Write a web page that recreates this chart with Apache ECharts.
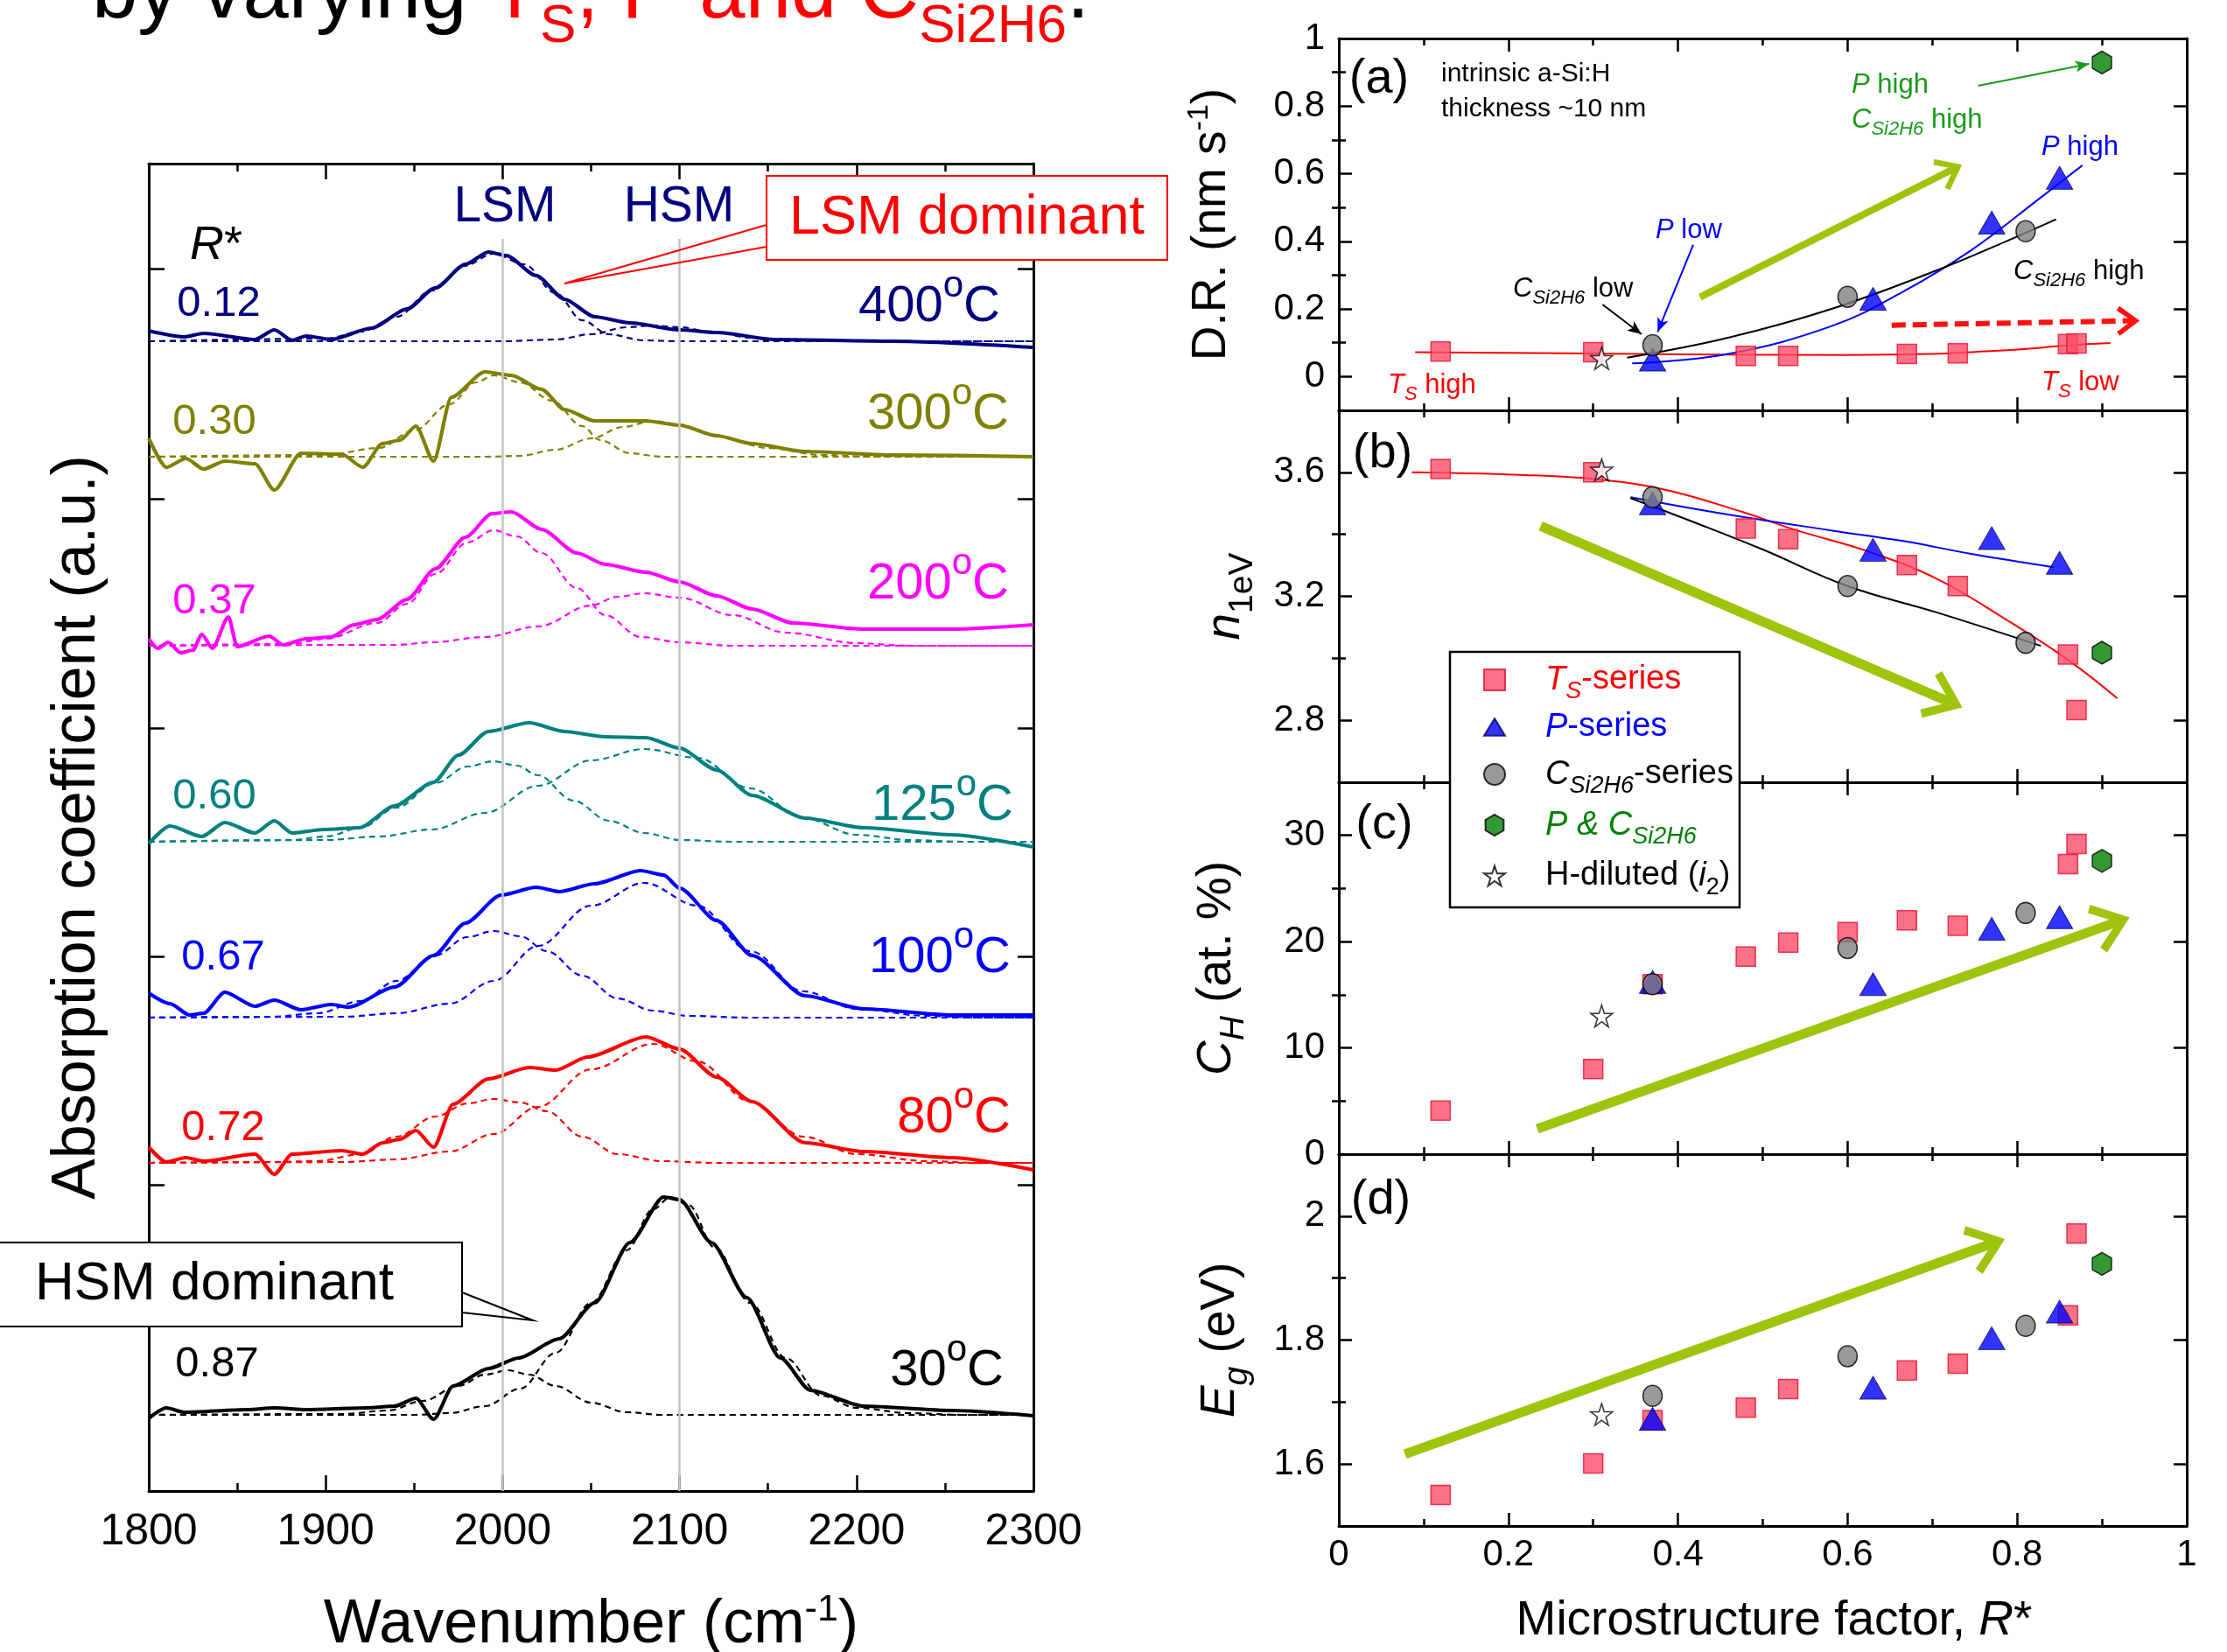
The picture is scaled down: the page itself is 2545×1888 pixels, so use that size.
<!DOCTYPE html>
<html>
<head>
<meta charset="utf-8">
<title>a-Si:H microstructure</title>
<script src="https://cdn.jsdelivr.net/npm/echarts@6/dist/echarts.min.js"></script>
<style>
html,body{margin:0;padding:0;background:#ffffff;}
#chart{width:2545px;height:1888px;}
</style>
</head>
<body>
<div id="chart"></div>
<script>
// ======================= DATA =======================
// ---- Left panel: FTIR Si-H stretching spectra (height above each curve's baseline, a.u.)
const wnTicks = [1800, 1900, 2000, 2100, 2200, 2300];
const absTicks = [350, 611, 872, 1134, 1397];
const tempLabels = ['400', '300', '200', '125', '100', '80', '30'];
const rStarLabels = ['0.12', '0.30', '0.37', '0.60', '0.67', '0.72', '0.87'];
const baselines = [1314, 1182, 966, 742, 541, 375, 87];
const peakLines = [2000, 2100];
const peakLineTop = 1431;

const spec400 = [[1800,12],[1820,5],[1831,9],[1860,2],[1871,13],[1881,1],[1889,6],[1903,2],[1926,15],[1946,37],[1962,61],[1979,88],[1992,102],[2002,98],[2019,75],[2035,48],[2052,28],[2072,21],[2100,13],[2121,10],[2154,2],[2221,0],[2300,-7]];
const lsm400 = [[1800,0],[1900,3],[1920,11],[1940,28],[1960,58],[1978,86],[1995,100],[2012,88],[2030,55],[2045,24],[2060,8],[2080,1],[2100,0],[2300,0]];
const hsm400 = [[1800,0],[2000,0],[2030,2],[2050,8],[2070,16],[2085,18],[2100,16],[2120,10],[2140,4],[2160,1],[2190,0],[2300,0]];

const spec300 = [[1800,21],[1810,-12],[1821,-2],[1831,-14],[1843,-5],[1860,-8],[1871,-38],[1886,4],[1909,3],[1921,-12],[1932,15],[1942,19],[1951,35],[1961,-5],[1971,68],[1990,97],[2005,93],[2022,77],[2035,54],[2052,41],[2081,41],[2100,36],[2121,24],[2141,15],[2171,6],[2221,2],[2300,0]];
const lsm300 = [[1800,0],[1900,2],[1930,10],[1950,30],[1970,60],[1985,85],[1995,93],[2010,85],[2028,64],[2045,35],[2055,19],[2072,4],[2090,0],[2300,0]];
const hsm300 = [[1800,0],[1990,0],[2010,1],[2030,8],[2050,21],[2068,34],[2085,41],[2100,37],[2120,24],[2150,10],[2180,2],[2210,0],[2300,0]];

const spec200 = [[1800,8],[1805,-3],[1811,4],[1818,-8],[1825,-5],[1830,13],[1836,-3],[1845,33],[1850,-1],[1868,11],[1876,1],[1889,8],[1903,10],[1916,24],[1929,30],[1946,53],[1962,88],[1979,124],[1994,151],[2005,153],[2022,133],[2042,106],[2058,93],[2081,84],[2100,73],[2121,57],[2141,42],[2164,26],[2204,19],[2254,19],[2300,24]];
const lsm200 = [[1800,0],[1880,2],[1900,8],[1929,26],[1946,48],[1962,82],[1980,118],[1995,132],[2008,125],[2022,106],[2042,66],[2058,35],[2078,10],[2100,4],[2130,0],[2300,0]];
const hsm200 = [[1800,0],[1940,1],[1960,4],[1990,10],[2020,22],[2050,46],[2065,56],[2080,60],[2100,55],[2130,35],[2160,15],[2200,3],[2230,0],[2300,0]];

const spec125 = [[1800,-2],[1812,18],[1830,6],[1843,22],[1860,10],[1871,24],[1881,10],[1899,14],[1919,16],[1939,41],[1961,68],[1975,99],[1992,126],[2015,136],[2035,126],[2058,120],[2081,119],[2100,107],[2121,82],[2141,53],[2171,27],[2204,16],[2254,8],[2300,-6]];
const lsm125 = [[1800,0],[1880,2],[1900,6],[1920,16],[1940,39],[1962,67],[1980,86],[1995,92],[2008,87],[2020,76],[2040,47],[2060,24],[2080,10],[2100,2],[2130,0],[2300,0]];
const hsm125 = [[1800,0],[1900,2],[1930,6],[1960,14],[1990,33],[2020,64],[2050,93],[2080,106],[2110,96],[2140,61],[2170,27],[2200,8],[2230,2],[2260,0],[2300,0]];

const spec100 = [[1800,28],[1812,16],[1823,3],[1831,5],[1843,29],[1860,13],[1871,20],[1886,9],[1903,15],[1913,12],[1939,35],[1961,71],[1979,108],[1999,140],[2019,149],[2032,144],[2052,153],[2078,168],[2091,163],[2100,148],[2121,111],[2141,71],[2171,25],[2204,10],[2254,3],[2300,3]];
const lsm100 = [[1800,0],[1870,1],[1895,5],[1920,19],[1940,42],[1962,71],[1980,92],[1995,99],[2010,93],[2025,76],[2045,48],[2065,22],[2085,8],[2105,2],[2140,0],[2300,0]];
const hsm100 = [[1800,0],[1910,1],[1940,5],[1970,16],[1995,42],[2020,82],[2050,128],[2080,154],[2110,128],[2140,76],[2170,30],[2200,10],[2240,2],[2270,0],[2300,0]];

const spec80 = [[1800,18],[1810,1],[1821,6],[1831,2],[1860,10],[1871,-13],[1881,10],[1909,14],[1921,10],[1932,23],[1942,27],[1951,37],[1961,18],[1972,67],[1992,96],[2015,109],[2030,106],[2048,121],[2081,144],[2100,130],[2121,98],[2141,70],[2171,23],[2204,13],[2254,6],[2300,-8]];
const lsm80 = [[1800,0],[1870,1],[1895,2],[1920,10],[1940,30],[1962,53],[1980,68],[1995,73],[2010,69],[2025,59],[2045,30],[2065,10],[2090,2],[2120,0],[2300,0]];
const hsm80 = [[1800,0],[1910,1],[1940,4],[1970,13],[1995,33],[2020,64],[2050,107],[2085,136],[2110,116],[2140,70],[2170,30],[2200,10],[2240,2],[2270,0],[2300,0]];

const spec30 = [[1800,-4],[1810,8],[1820,3],[1856,6],[1871,8],[1889,6],[1923,8],[1939,10],[1951,19],[1961,-5],[1972,33],[1992,53],[2009,65],[2032,87],[2052,128],[2072,197],[2091,249],[2100,246],[2118,197],[2138,134],[2157,65],[2174,28],[2204,10],[2254,5],[2300,-1]];
const lsm30 = [[1800,0],[1910,1],[1935,5],[1955,16],[1975,33],[1990,46],[2003,51],[2015,46],[2030,33],[2050,14],[2070,3],[2090,0],[2300,0]];
const hsm30 = [[1800,0],[1950,0],[1970,2],[1990,10],[2010,30],[2030,71],[2050,128],[2070,188],[2085,235],[2095,249],[2105,240],[2120,191],[2140,128],[2160,65],[2180,22],[2200,8],[2230,2],[2260,0],[2300,0]];

// ---- Right panels: properties vs microstructure factor R*
const rTicks = [0, 0.2, 0.4, 0.6, 0.8, 1];
const drTicks = [0, 0.2, 0.4, 0.6, 0.8, 1];
const drMinor = [0.1, 0.3, 0.5, 0.7, 0.9];
const nTicks = [2.8, 3.2, 3.6];
const nMinor = [3.0, 3.4];
const chTicks = [0, 10, 20, 30];
const chMinor = [5, 15, 25];
const egTicks = [1.6, 1.8, 2.0];
const egMinor = [1.7, 1.9];

// Ts-series
const tsRa = [0.12, 0.30, 0.48, 0.53, 0.67, 0.73, 0.86, 0.87];
const tsDR = [0.074, 0.072, 0.061, 0.061, 0.067, 0.069, 0.096, 0.098];
const tsRb = [0.12, 0.30, 0.48, 0.53, 0.67, 0.73, 0.86, 0.87];
const tsN = [3.611, 3.600, 3.419, 3.384, 3.301, 3.233, 3.012, 2.833];
const tsRc = [0.12, 0.30, 0.37, 0.48, 0.53, 0.60, 0.67, 0.73, 0.86, 0.87];
const tsCH = [4.1, 8.0, 16.0, 18.6, 19.9, 20.9, 22.0, 21.5, 27.3, 29.2];
const tsRd = [0.12, 0.30, 0.37, 0.48, 0.53, 0.67, 0.73, 0.86, 0.87];
const tsEg = [1.550, 1.601, 1.671, 1.691, 1.721, 1.751, 1.762, 1.840, 1.972];
// P-series
const pR = [0.37, 0.63, 0.77, 0.85];
const pDR = [0.050, 0.230, 0.455, 0.588];
const pN = [3.50, 3.35, 3.388, 3.308];
const pCH = [16.2, 16.0, 21.2, 22.3];
const pEg = [1.673, 1.723, 1.803, 1.846];
// C_Si2H6-series
const cR = [0.37, 0.60, 0.81];
const cDR = [0.093, 0.236, 0.430];
const cN = [3.52, 3.233, 3.05];
const cCH = [16.0, 19.4, 22.7];
const cEg = [1.710, 1.774, 1.823];
// P & C_Si2H6
const pcR = [0.90];
const pcDR = [0.929];
const pcN = [3.018];
const pcCH = [27.6];
const pcEg = [1.923];
// H-diluted (i2)
const hR = [0.31];
const hDR = [0.054];
const hN = [3.608];
const hCH = [13.0];
const hEg = [1.680];
// guide-to-the-eye curves
const fitTsDR = [[0.09,0.072],[0.30,0.068],[0.45,0.065],[0.60,0.064],[0.70,0.067],[0.75,0.073],[0.80,0.080],[0.86,0.092],[0.91,0.099]];
const fitPDR = [[0.346,0.039],[0.459,0.067],[0.582,0.150],[0.664,0.249],[0.746,0.374],[0.828,0.530],[0.877,0.625]];
const fitCDR = [[0.340,0.056],[0.459,0.115],[0.582,0.201],[0.705,0.314],[0.787,0.400],[0.846,0.465]];
const fitTsN = [[0.086,3.600],[0.213,3.592],[0.299,3.579],[0.385,3.544],[0.475,3.473],[0.541,3.412],[0.623,3.346],[0.705,3.257],[0.787,3.125],[0.861,2.993],[0.918,2.871]];
const fitPN = [[0.344,3.520],[0.459,3.464],[0.582,3.412],[0.664,3.379],[0.746,3.337],[0.843,3.294]];
const fitCN = [[0.344,3.517],[0.418,3.440],[0.500,3.351],[0.600,3.233],[0.705,3.148],[0.828,3.040]];
// trend arrows (data coordinates: [R*, value])
const trendA = [[0.426, 0.235], [0.7255, 0.615]];
const trendB = [[0.238, 3.427], [0.721, 2.858]];
const trendC = [[0.234, 2.38], [0.918, 21.85]];
const trendD = [[0.078, 1.616], [0.771, 1.956]];
const tsArrowA = [[0.652, 0.152], [0.935, 0.165]];
const greenArrowA = [[0.754, 0.860], [0.885, 0.925]];
const blueArrowA = [[0.418, 0.390], [0.376, 0.132]];
const blackArrowA = [[0.311, 0.213], [0.357, 0.125]];

// ======================= STYLE / LAYOUT =======================
const FF = '"Liberation Sans", Arial, Helvetica, sans-serif';
const specColors = ['#000080', '#808000', '#ff00ff', '#008080', '#0000ff', '#ff0000', '#000000'];
const LIME = '#9ec40c';
const LH = (s) => Math.round(s * 1.2);
const R = (s) => ({
  i: {fontStyle: 'italic', fontSize: s, fontFamily: FF, lineHeight: LH(s)},
  sub: {fontSize: Math.round(s * 0.7), fontFamily: FF, lineHeight: LH(s), padding: [Math.round(s * 0.7), 0, 0, 0]},
  isub: {fontSize: Math.round(s * 0.7), fontStyle: 'italic', fontFamily: FF, lineHeight: LH(s), padding: [Math.round(s * 0.7), 0, 0, 0]},
  sup: {fontSize: Math.round(s * 0.62), fontFamily: FF, lineHeight: LH(s), padding: [0, 0, Math.round(s * 0.5), 0]},
  deg: {fontSize: Math.round(s * 0.72), fontFamily: FF, lineHeight: LH(s), padding: [0, 0, Math.round(s * 0.83), 0]}
});
const zip = (xs, ys) => xs.map((x, i) => [x, ys[i]]);
const AXL = {color: '#000', width: 3};
const TKS = {color: '#000', width: 2.5};

// ======================= CHART =======================
const chart = echarts.init(document.getElementById('chart'), null, {renderer: 'canvas', width: 2545, height: 1888});

const grid = [
  {left: 170, top: 187, width: 1011, height: 1517, outerBoundsMode: 'none', containLabel: false},
  {left: 1530, top: 44, width: 969, height: 425, outerBoundsMode: 'none', containLabel: false},
  {left: 1530, top: 469, width: 969, height: 425, outerBoundsMode: 'none', containLabel: false},
  {left: 1530, top: 894, width: 969, height: 425, outerBoundsMode: 'none', containLabel: false},
  {left: 1530, top: 1319, width: 969, height: 425, outerBoundsMode: 'none', containLabel: false}
];

const xAxis = [];
const yAxis = [];
// left panel axes
xAxis.push({
  gridIndex: 0, type: 'value', position: 'bottom', min: 1800, max: 2300, interval: 100,
  axisLine: {onZero: false, lineStyle: AXL},
  axisTick: {inside: true, length: 18, lineStyle: TKS},
  minorTick: {show: true, splitNumber: 2, length: 9, lineStyle: TKS},
  axisLabel: {fontSize: 50, fontFamily: FF, color: '#000', margin: 22, customValues: wnTicks, formatter: v => String(v)},
  splitLine: {show: false},
  name: 'Wavenumber (cm{sup|-1})', nameLocation: 'middle', nameGap: 112,
  nameTextStyle: {fontSize: 70, fontFamily: FF, color: '#000', lineHeight: LH(70), rich: R(70)}
});
xAxis.push({
  gridIndex: 0, type: 'value', position: 'top', min: 1800, max: 2300, interval: 100,
  axisLine: {onZero: false, lineStyle: AXL},
  axisTick: {inside: true, length: 18, lineStyle: TKS},
  minorTick: {show: true, splitNumber: 2, length: 9, lineStyle: TKS},
  axisLabel: {show: false}, splitLine: {show: false}
});
yAxis.push({
  gridIndex: 0, type: 'value', position: 'left', min: 0, max: 1517,
  axisLine: {onZero: false, lineStyle: AXL},
  axisTick: {inside: true, length: 18, lineStyle: TKS, customValues: absTicks},
  axisLabel: {show: false}, splitLine: {show: false},
  name: 'Absorption coefficient (a.u.)', nameLocation: 'middle', nameRotate: 90, nameGap: 46,
  nameTextStyle: {fontSize: 70, fontFamily: FF, color: '#000'}
});
yAxis.push({
  gridIndex: 0, type: 'value', position: 'right', min: 0, max: 1517,
  axisLine: {onZero: false, lineStyle: AXL},
  axisTick: {inside: true, length: 18, lineStyle: TKS, customValues: absTicks},
  axisLabel: {show: false}, splitLine: {show: false}
});

// right panels
const pMin = [-0.1, 2.6, 0, 1.5];
const pMax = [1.0, 3.8, 35, 2.1];
const pMajor = [drTicks, nTicks, chTicks, egTicks];
const pMinor = [drMinor, nMinor, chMinor, egMinor];
const pNames = ['D.R. (nm s{sup|-1})', '{i|n}{sub|1eV}', '{i|C}{isub|H} (at. %)', '{i|E}{isub|g} (eV)'];
const pNameGap = [112, 96, 106, 102];
for (let k = 0; k < 4; k++) {
  const g = k + 1;
  const last = k === 3;
  xAxis.push({
    gridIndex: g, type: 'value', position: 'bottom', min: 0, max: 1, interval: 0.2,
    axisLine: {onZero: false, lineStyle: AXL},
    axisTick: {inside: true, length: 15, lineStyle: TKS},
    minorTick: {show: true, splitNumber: 2, length: 8, lineStyle: TKS},
    axisLabel: {show: last, fontSize: 42, fontFamily: FF, color: '#000', margin: 12, customValues: rTicks},
    splitLine: {show: false},
    name: last ? 'Microstructure factor, {i|R}*' : '', nameLocation: 'middle', nameGap: 76,
    nameTextStyle: {fontSize: 55, fontFamily: FF, color: '#000', lineHeight: LH(55), rich: R(55), padding: [0, 0, 0, 26]}
  });
  xAxis.push({
    gridIndex: g, type: 'value', position: 'top', min: 0, max: 1, interval: 0.2,
    axisLine: {onZero: false, lineStyle: AXL},
    axisTick: {inside: true, length: 15, lineStyle: TKS},
    minorTick: {show: true, splitNumber: 2, length: 8, lineStyle: TKS},
    axisLabel: {show: false}, splitLine: {show: false}
  });
  yAxis.push({
    gridIndex: g, type: 'value', position: 'left', min: pMin[k], max: pMax[k],
    axisLine: {onZero: false, lineStyle: AXL},
    axisTick: {inside: true, length: 15, lineStyle: TKS, customValues: pMajor[k]},
    axisLabel: {fontSize: 42, fontFamily: FF, color: '#000', margin: 16, customValues: pMajor[k]},
    splitLine: {show: false},
    name: pNames[k], nameLocation: 'middle', nameRotate: 90, nameGap: pNameGap[k],
    nameTextStyle: {fontSize: 55, fontFamily: FF, color: '#000', lineHeight: LH(55), rich: R(55)}
  });
  yAxis.push({
    gridIndex: g, type: 'value', position: 'left', min: pMin[k], max: pMax[k],
    axisLine: {show: false},
    axisTick: {inside: true, length: 8, lineStyle: TKS, customValues: pMinor[k]},
    axisLabel: {show: false}, splitLine: {show: false}
  });
  yAxis.push({
    gridIndex: g, type: 'value', position: 'right', min: pMin[k], max: pMax[k],
    axisLine: {onZero: false, lineStyle: AXL},
    axisTick: {inside: true, length: 15, lineStyle: TKS, customValues: pMajor[k]},
    axisLabel: {show: false}, splitLine: {show: false}
  });
  yAxis.push({
    gridIndex: g, type: 'value', position: 'right', min: pMin[k], max: pMax[k],
    axisLine: {show: false},
    axisTick: {inside: true, length: 8, lineStyle: TKS, customValues: pMinor[k]},
    axisLabel: {show: false}, splitLine: {show: false}
  });
}

// ---------- series ----------
const series = [];
series.push({
  type: 'line', name: 'ref', xAxisIndex: 0, yAxisIndex: 0, data: [], z: 1, silent: true,
  markLine: {
    silent: true, symbol: ['none', 'none'], label: {show: false}, animation: false,
    lineStyle: {color: '#c4c4c4', width: 2.5, type: 'solid'},
    data: peakLines.map(w => [{coord: [w, 0]}, {coord: [w, peakLineTop]}])
  }
});
const spectra = [
  [spec400, lsm400, hsm400], [spec300, lsm300, hsm300], [spec200, lsm200, hsm200],
  [spec125, lsm125, hsm125], [spec100, lsm100, hsm100], [spec80, lsm80, hsm80], [spec30, lsm30, hsm30]
];
spectra.forEach((s, i) => {
  const off = baselines[i];
  const col = specColors[i];
  const lift = arr => arr.map(p => [p[0], p[1] + off]);
  series.push({type: 'line', name: tempLabels[i] + ' °C measured', xAxisIndex: 0, yAxisIndex: 0, data: lift(s[0]),
    showSymbol: false, smooth: 0.25, smoothMonotone: 'x', silent: true, z: 4,
    lineStyle: {color: col, width: 4.2}});
  series.push({type: 'line', name: tempLabels[i] + ' °C LSM fit', xAxisIndex: 0, yAxisIndex: 0, data: lift(s[1]),
    showSymbol: false, smooth: 0.35, smoothMonotone: 'x', silent: true, z: 3,
    lineStyle: {color: col, width: 2.2, type: [7, 5]}});
  series.push({type: 'line', name: tempLabels[i] + ' °C HSM fit', xAxisIndex: 0, yAxisIndex: 0, data: lift(s[2]),
    showSymbol: false, smooth: 0.35, smoothMonotone: 'x', silent: true, z: 3,
    lineStyle: {color: col, width: 2.2, type: [7, 5]}});
});

const SQR = 'path://M0,0L10,0L10,10L0,10Z';
const TRI = 'path://M14,0L28,23L0,23Z';
const HEX = 'path://M0,-10L8.66,-5L8.66,5L0,10L-8.66,5L-8.66,-5Z';
const STAR = 'path://M0,-10L2.245,-3.09L9.51,-3.09L3.633,1.18L5.878,8.09L0,3.82L-5.878,8.09L-3.633,1.18L-9.51,-3.09L-2.245,-3.09Z';
const CHEV = 'path://M50,-24L50.01,-24L50,-24.01Z M50,0L100,70L86,80L50,28L14,80L0,70Z';

const groupStyle = {
  ts: {name: 'TS-series', symbol: SQR, symbolSize: 22, itemStyle: {color: '#fb4d68', borderColor: '#e8102e', borderWidth: 1.5}},
  p: {name: 'P-series', symbol: TRI, symbolSize: [30, 26], itemStyle: {color: '#0000ff', borderColor: '#00006a', borderWidth: 1}},
  c: {name: 'CSi2H6-series', symbol: 'circle', symbolSize: [22, 24], itemStyle: {color: '#808080', borderColor: '#000', borderWidth: 1.5}},
  pc: {name: 'P & CSi2H6', symbol: HEX, symbolSize: [22, 26], itemStyle: {color: '#008000', borderColor: '#000', borderWidth: 1.5}},
  h: {name: 'H-diluted (i2)', symbol: STAR, symbolSize: 25, itemStyle: {color: '#ffffff', borderColor: '#000', borderWidth: 1.5}}
};
const panelData = [
  {ts: zip(tsRa, tsDR), p: zip(pR, pDR), c: zip(cR, cDR), pc: zip(pcR, pcDR), h: zip(hR, hDR)},
  {ts: zip(tsRb, tsN), p: zip(pR, pN), c: zip(cR, cN), pc: zip(pcR, pcN), h: zip(hR, hN)},
  {ts: zip(tsRc, tsCH), p: zip(pR, pCH), c: zip(cR, cCH), pc: zip(pcR, pcCH), h: zip(hR, hCH)},
  {ts: zip(tsRd, tsEg), p: zip(pR, pEg), c: zip(cR, cEg), pc: zip(pcR, pcEg), h: zip(hR, hEg)}
];
const panelFits = [
  [[fitTsDR, '#ff0000'], [fitPDR, '#0000ff'], [fitCDR, '#000000']],
  [[fitTsN, '#ff0000'], [fitPN, '#0000ff'], [fitCN, '#000000']],
  [], []
];
const chevLine = (pts, color, width, type, size) => [
  {coord: pts[0], symbol: 'none', lineStyle: {color, width, type}},
  {coord: pts[1], symbol: CHEV, symbolSize: size}
];
const thinArrow = (pts, color) => [
  {coord: pts[0], symbol: 'none', lineStyle: {color, width: 2, type: 'solid'}},
  {coord: pts[1], symbol: 'arrow', symbolSize: [10, 16]}
];
const panelArrows = [
  [chevLine(trendA, LIME, 8, 'solid', [40, 38]), chevLine(tsArrowA, '#ff1010', 6, [16, 8], [34, 34]),
   thinArrow(greenArrowA, '#1a9a1a'), thinArrow(blueArrowA, '#0000ff'), thinArrow(blackArrowA, '#000000')],
  [chevLine(trendB, LIME, 11, 'solid', [58, 56])],
  [chevLine(trendC, LIME, 11, 'solid', [58, 56])],
  [chevLine(trendD, LIME, 11, 'solid', [58, 56])]
];

for (let k = 0; k < 4; k++) {
  const xi = 2 + 2 * k, yi = 2 + 4 * k;
  panelFits[k].forEach(([d, col], j) => {
    series.push({type: 'line', name: 'fit' + k + '_' + j, xAxisIndex: xi, yAxisIndex: yi, data: d,
      showSymbol: false, smooth: 0.4, silent: true, z: 2, lineStyle: {color: col, width: 2}});
  });
  series.push({type: 'line', name: 'arrows' + k, xAxisIndex: xi, yAxisIndex: yi, data: [], z: 2, silent: true,
    markLine: {silent: true, animation: false, label: {show: false}, data: panelArrows[k]}});
  ['ts', 'p', 'c', 'pc', 'h'].forEach(key => {
    const st = groupStyle[key];
    series.push({type: 'scatter', name: st.name, xAxisIndex: xi, yAxisIndex: yi, data: panelData[k][key],
      symbol: st.symbol, symbolSize: st.symbolSize, itemStyle: st.itemStyle, z: 5, silent: true});
  });
}

// ---------- legend ----------
const legendText = {
  'TS-series': '{i|T}{isub|S}-series',
  'P-series': '{i|P}-series',
  'CSi2H6-series': '{i|C}{isub|Si2H6}-series',
  'P & CSi2H6': '{i|P & C}{isub|Si2H6}',
  'H-diluted (i2)': 'H-diluted ({i|i}{sub|2})'
};
const legendColors = ['#ff0000', '#0000ff', '#000000', '#008000', '#000000'];

// ---------- graphic annotations ----------
const gText = (x, y, text, size, color, align) => ({
  type: 'text', x, y, z: 30, silent: true,
  style: {text, fill: color, fontSize: size, fontFamily: FF, lineHeight: LH(size),
    align: align || 'left', verticalAlign: 'middle', textAlign: align || 'left', textVerticalAlign: 'middle', rich: R(size)}
});
const graphic = [];
graphic.push(gText(577, 237, 'LSM', 57, '#000080', 'center'));
graphic.push(gText(776, 237, 'HSM', 57, '#000080', 'center'));
graphic.push(gText(247, 281, '{i|R}*', 54, '#000', 'center'));
const rLabelPos = [[250, 347], [245, 482], [245, 687], [245, 910], [255, 1094], [255, 1289], [248, 1559]];
const tLabelPos = [[1143, 351], [1153, 474], [1153, 668], [1158, 921], [1155, 1095], [1155, 1278], [1147, 1567]];
rStarLabels.forEach((t, i) => graphic.push(gText(rLabelPos[i][0], rLabelPos[i][1], t, 49, specColors[i], 'center')));
tempLabels.forEach((t, i) => graphic.push(gText(tLabelPos[i][0], tLabelPos[i][1], t + '{deg|o}C', 58, specColors[i], 'right')));
graphic.push({type: 'rect', z: 25, silent: true, shape: {x: 876, y: 201, width: 458, height: 96}, style: {fill: '#fff', stroke: '#ff0000', lineWidth: 2}});
graphic.push({type: 'polyline', z: 26, silent: true, shape: {points: [[876, 257], [645, 324], [876, 282]]}, style: {stroke: '#ff0000', lineWidth: 2, fill: null}});
graphic.push(gText(1105, 250, 'LSM dominant', 63, '#ff0000', 'center'));
graphic.push({type: 'rect', z: 25, silent: true, shape: {x: -2, y: 1420, width: 530, height: 96}, style: {fill: '#fff', stroke: '#000', lineWidth: 2}});
graphic.push({type: 'polyline', z: 26, silent: true, shape: {points: [[528, 1477], [609, 1509], [528, 1500]]}, style: {stroke: '#000', lineWidth: 2, fill: null}});
graphic.push(gText(245, 1468, 'HSM dominant', 62, '#000', 'center'));
graphic.push(gText(1576, 91, '(a)', 56, '#000', 'center'));
graphic.push(gText(1580, 519, '(b)', 56, '#000', 'center'));
graphic.push(gText(1582, 943, '(c)', 56, '#000', 'center'));
graphic.push(gText(1578, 1372, '(d)', 56, '#000', 'center'));
graphic.push(gText(1647, 85, 'intrinsic a-Si:H', 30, '#000'));
graphic.push(gText(1647, 125, 'thickness ~10 nm', 30, '#000'));
graphic.push(gText(2116, 97, '{i|P} high', 31, '#1a9a1a'));
graphic.push(gText(2116, 137, '{i|C}{isub|Si2H6} high', 31, '#1a9a1a'));
graphic.push(gText(2333, 168, '{i|P} high', 31, '#0000ff'));
graphic.push(gText(1892, 263, '{i|P} low', 31, '#0000ff'));
graphic.push(gText(1729, 330, '{i|C}{isub|Si2H6} low', 31, '#000'));
graphic.push(gText(2301, 310, '{i|C}{isub|Si2H6} high', 31, '#000'));
graphic.push(gText(1586, 440, '{i|T}{isub|S} high', 31, '#ff0000'));
graphic.push(gText(2333, 437, '{i|T}{isub|S} low', 31, '#ff0000'));
// legend frame (covers panel boundary like the original)
graphic.push({type: 'rect', z: 3, silent: true, shape: {x: 1657, y: 745, width: 331, height: 292}, style: {fill: '#fff', stroke: '#000', lineWidth: 2.5}});

const option = {
  animation: false,
  backgroundColor: '#ffffff',
  title: {
    text: 'by varying {r|T}{rs|S}{r|, P and C}{rs|Si2H6}.',
    left: 100, top: -67,
    textStyle: {fontSize: 94, fontWeight: 'normal', fontFamily: FF, color: '#000', lineHeight: 113,
      rich: {
        r: {color: '#ff0000', fontSize: 94, fontFamily: FF, lineHeight: 113},
        rs: {color: '#ff0000', fontSize: 62, fontFamily: FF, lineHeight: 113, padding: [72, 0, 0, 0]}
      }}
  },
  legend: {
    show: true, orient: 'vertical', left: 1690, top: 745, itemWidth: 24, itemHeight: 24, itemGap: 4,
    selectedMode: false, z: 6,
    data: Object.keys(legendText).map((n, i) => ({name: n, textStyle: {color: legendColors[i]}})),
    formatter: n => legendText[n],
    textStyle: {fontSize: 38, fontFamily: FF, lineHeight: 40, padding: [0, 0, 0, 41], rich: R(38)}
  },
  grid, xAxis, yAxis, series, graphic
};
chart.setOption(option);
</script>
</body>
</html>
